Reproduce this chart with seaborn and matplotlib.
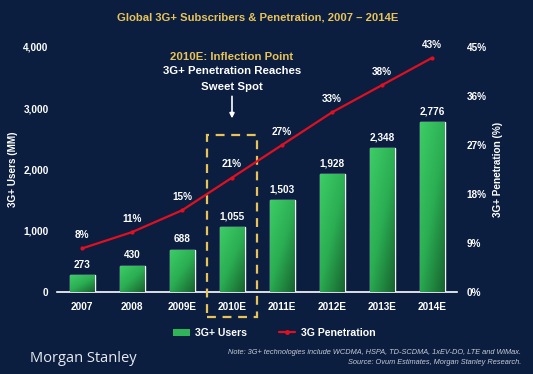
import numpy as np
import pandas as pd
import matplotlib
matplotlib.use("Agg")
import matplotlib.pyplot as plt
import seaborn as sns
from matplotlib.colors import LinearSegmentedColormap
from matplotlib.patches import Rectangle, Patch
from matplotlib.lines import Line2D
from matplotlib.ticker import FuncFormatter, FixedLocator

# datos
years = ['2007', '2008', '2009E', '2010E', '2011E', '2012E', '2013E', '2014E']
users = [273, 430, 688, 1055, 1503, 1928, 2348, 2776]
penetration = [8, 11, 15, 21, 27, 33, 38, 43]
y_left_ticks = [0, 1000, 2000, 3000, 4000]
y_right_ticks = [0, 9, 18, 27, 36, 45]

df = pd.DataFrame({'year': years, 'users': users, 'pen': penetration})

BG = '#0b1e40'
GOLD = '#e8c35a'
WHITE = '#ffffff'
RED = '#e01020'
FS = 7.2

sns.set_theme(style='white')
plt.rcParams['font.family'] = ['Liberation Sans', 'DejaVu Sans']

fig = plt.figure(figsize=(5.33, 3.74), dpi=100, facecolor=BG)
ax = fig.add_axes([57/533, 82/374, 400/533, 245/374])
ax.set_facecolor(BG)

sns.barplot(data=df, x='year', y='users', color='#2fb457', width=0.5, ax=ax, zorder=2)

# degradado verde dentro de cada barra
cmap = LinearSegmentedColormap.from_list('g', ['#3dcc66', '#2bae53', '#17652f'])
grad = np.add.outer(np.linspace(0, 0.55, 50), np.linspace(0, 0.45, 20))
for p in ax.patches:
    x0, y0 = p.get_x(), p.get_y()
    w, h = p.get_width(), p.get_height()
    im = ax.imshow(grad, cmap=cmap, vmin=0, vmax=1, aspect='auto', origin='upper',
                   extent=[x0, x0 + w, y0, y0 + h], zorder=3)
    im.set_clip_path(p)

ax.set_xlim(-0.5, 7.5)
ax.set_ylim(0, 4000)
ax.yaxis.set_major_locator(FixedLocator(y_left_ticks))
ax.yaxis.set_major_formatter(FuncFormatter(lambda v, _: f'{int(v):,}'))

for c in ax.containers:
    ax.bar_label(c, labels=[f'{v:,}' for v in users], padding=4,
                 color=WHITE, fontsize=FS, fontweight='bold')

for s in ['top', 'left', 'right']:
    ax.spines[s].set_visible(False)
ax.spines['bottom'].set_color(WHITE)
ax.spines['bottom'].set_linewidth(1.2)
ax.set_xticks(np.arange(-0.5, 8, 1), minor=True)
ax.tick_params(axis='x', which='minor', direction='in', length=3, color=WHITE, width=1)
ax.tick_params(axis='x', which='major', length=0, pad=7, labelsize=FS, labelcolor=WHITE)
ax.tick_params(axis='y', length=0, pad=6, labelsize=FS, labelcolor=WHITE)
for t in ax.get_xticklabels() + ax.get_yticklabels():
    t.set_fontweight('bold')
ax.set_xlabel('')
ax.set_ylabel('3G+ Users (MM)', color=WHITE, fontsize=FS, fontweight='bold')
ax.yaxis.set_label_coords(-0.098, 0.5)

# eje derecho: penetracion
ax2 = ax.twinx()
sns.lineplot(x=np.arange(len(years)), y=penetration, ax=ax2, color=RED, linewidth=1.6,
             marker='o', markersize=3, markeredgewidth=0, zorder=4)
ax2.set_ylim(0, 45)
ax2.yaxis.set_major_locator(FixedLocator(y_right_ticks))
ax2.yaxis.set_major_formatter(FuncFormatter(lambda v, _: f'{int(v)}%'))
ax2.tick_params(axis='y', length=0, pad=7, labelsize=FS, labelcolor=WHITE)
for t in ax2.get_yticklabels():
    t.set_fontweight('bold')
for s in ['top', 'left', 'right', 'bottom']:
    ax2.spines[s].set_visible(False)
ax2.set_ylabel('3G+ Penetration (%)', color=WHITE, fontsize=FS, fontweight='bold')
ax2.yaxis.set_label_coords(1.09, 0.5)
ax2.grid(False)
ax.grid(False)

for i, v in enumerate(penetration):
    ax2.annotate(f'{v}%', (i, v), xytext=(0, 6), textcoords='offset points',
                 ha='center', va='bottom', color=WHITE, fontsize=FS, fontweight='bold')

# recuadro 2010E
ax.add_patch(Rectangle((2.5, -410), 1.0, 2975, fill=False, edgecolor=GOLD,
                       linestyle=(0, (4, 3)), linewidth=1.6, clip_on=False, zorder=5))
ax.text(3, 3830, '2010E: Inflection Point', ha='center', va='center',
        color=GOLD, fontsize=8.2, fontweight='bold')
ax.text(3, 3600, '3G+ Penetration Reaches', ha='center', va='center',
        color=WHITE, fontsize=8.2, fontweight='bold')
ax.text(3, 3355, 'Sweet Spot', ha='center', va='center',
        color=WHITE, fontsize=8.2, fontweight='bold')
ax.annotate('', xy=(3, 2790), xytext=(3, 3240),
            arrowprops=dict(arrowstyle='-|>', color=WHITE, lw=1.2, mutation_scale=7))

fig.text(258/533, 1 - 18/374, 'Global 3G+ Subscribers & Penetration, 2007 \u2013 2014E',
         ha='center', va='center', color=GOLD, fontsize=8.1, fontweight='bold')

handles = [Patch(facecolor='#2fb457', edgecolor='none'),
           Line2D([0], [0], color=RED, lw=1.6, marker='o', markersize=2.5)]
leg = fig.legend(handles, ['3G+ Users', '3G Penetration'], loc='center',
                 bbox_to_anchor=(274/533, 1 - 333/374), ncol=2, frameon=False,
                 fontsize=7.6, handlelength=1.6, handleheight=0.6, handletextpad=0.5,
                 columnspacing=3.0)
for t in leg.get_texts():
    t.set_color(WHITE)
    t.set_fontweight('bold')

fig.text(30/533, 1 - 358/374, 'Morgan Stanley', ha='left', va='center',
         color='#e8eaf0', fontsize=10.5, family=['Open Sans', 'DejaVu Sans'])
fig.text(521/533, 1 - 352/374,
         'Note: 3G+ technologies include WCDMA, HSPA, TD-SCDMA, 1xEV-DO, LTE and WiMax.',
         ha='right', va='center', color='#c8ccd6', fontsize=5.3, style='italic')
fig.text(521/533, 1 - 362/374, 'Source: Ovum Estimates, Morgan Stanley Research.',
         ha='right', va='center', color='#c8ccd6', fontsize=5.3, style='italic')

fig.savefig('out.png', dpi=100, facecolor=BG)
